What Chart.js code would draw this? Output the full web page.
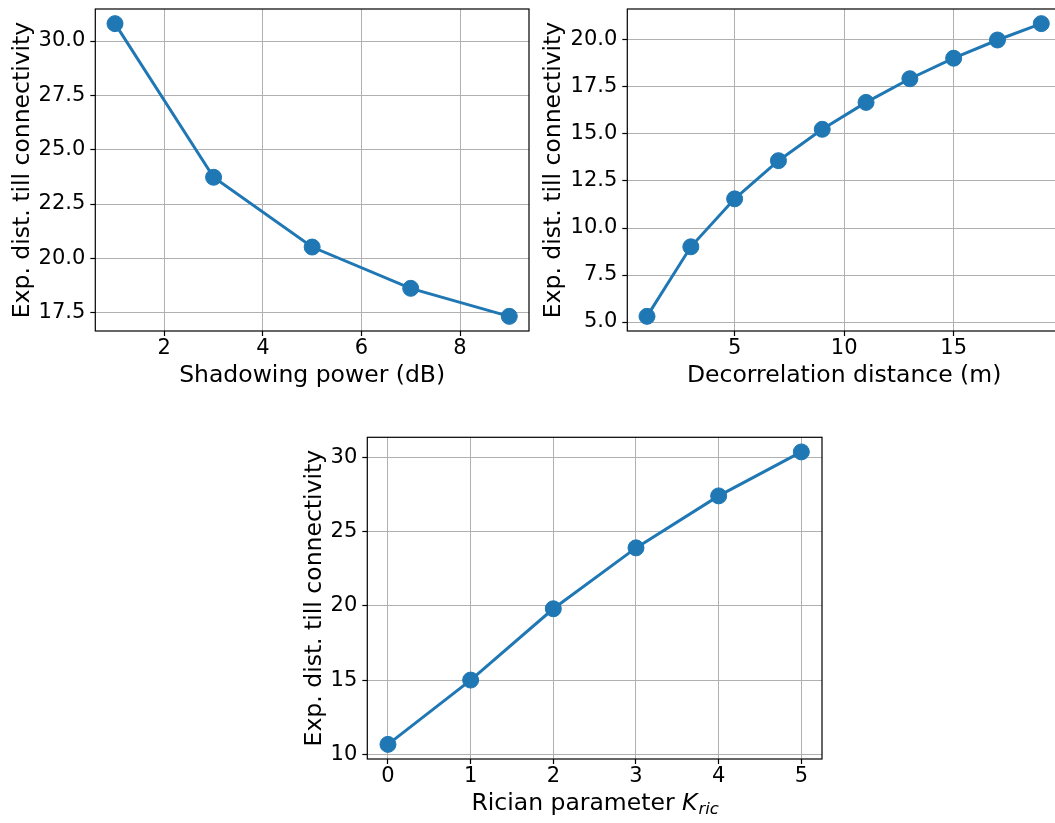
<!DOCTYPE html>
<html>
<head>
<meta charset="utf-8">
<script src="https://cdn.jsdelivr.net/npm/chart.js@4.4.0/dist/chart.umd.min.js"></script>
<style>
  html, body { margin: 0; padding: 0; background: #fff; overflow: hidden; }
  body { width: 1055px; height: 823px; position: relative; }
  .box { position: absolute; }
</style>
</head>
<body>
<div class="box" style="left:0px;top:0px;width:539px;height:401px"><canvas id="shadowChart"></canvas></div>
<div class="box" style="left:532px;top:0px;width:539px;height:401px"><canvas id="decorrChart"></canvas></div>
<div class="box" style="left:272px;top:420px;width:560px;height:409px"><canvas id="ricianChart"></canvas></div>
<script>
// shadowing power sweep
var shadowX = [1, 3, 5, 7, 9];
var shadowY = [30.80, 23.73, 20.52, 18.62, 17.33];
var shadowXTicks = [2, 4, 6, 8];
var shadowYTicks = [17.5, 20.0, 22.5, 25.0, 27.5, 30.0];

// decorrelation distance sweep
var decorrX = [1, 3, 5, 7, 9, 11, 13, 15, 17, 19];
var decorrY = [5.30, 9.00, 11.55, 13.58, 15.25, 16.68, 17.94, 19.03, 20.00, 20.87];
var decorrXTicks = [5, 10, 15];
var decorrYTicks = [5.0, 7.5, 10.0, 12.5, 15.0, 17.5, 20.0];

// rician K sweep
var ricianX = [0, 1, 2, 3, 4, 5];
var ricianY = [10.67, 15.00, 19.80, 23.90, 27.40, 30.36];
var ricianXTicks = [0, 1, 2, 3, 4, 5];
var ricianYTicks = [10, 15, 20, 25, 30];

var yLabel = "Exp. dist. till connectivity";
var FONT = "'DejaVu Sans', sans-serif";
var BLUE = "#1f77b4";
var TICK_SIZE = 21;
var LABEL_SIZE = 23.5;

Chart.defaults.color = "#000";
Chart.defaults.font.family = FONT;

// matplotlib style 5% margins
function padRange(vals) {
  var lo = Math.min.apply(null, vals), hi = Math.max.apply(null, vals);
  var m = (hi - lo) * 0.05;
  return [lo - m, hi + m];
}

// black box around the plot area
var frame = {
  id: 'frame',
  afterDraw: function(chart) {
    var a = chart.chartArea, ctx = chart.ctx;
    ctx.save();
    ctx.strokeStyle = "#000";
    ctx.lineWidth = 1.2;
    ctx.strokeRect(a.left, a.top, a.right - a.left, a.bottom - a.top);
    ctx.restore();
  }
};

// x label with italic K and subscript
var kricTitle = {
  id: 'kricTitle',
  afterDraw: function(chart) {
    var ctx = chart.ctx, sx = chart.scales.x, a = chart.chartArea;
    var y = sx.bottom - 25.5;
    var main = "Rician parameter ";
    var big = LABEL_SIZE + "px " + FONT;
    var bigIt = "italic " + LABEL_SIZE + "px " + FONT;
    var small = "italic 16.5px " + FONT;
    ctx.save();
    ctx.textBaseline = "middle";
    ctx.fillStyle = "#000";
    ctx.font = big;
    var w1 = ctx.measureText(main).width;
    ctx.font = bigIt;
    var w2 = ctx.measureText("K").width;
    ctx.font = small;
    var w3 = ctx.measureText("ric").width;
    var x = (a.left + a.right) / 2 - (w1 + w2 + w3) / 2;
    ctx.font = big;
    ctx.fillText(main, x, y);
    ctx.font = bigIt;
    ctx.fillText("K", x + w1, y);
    ctx.font = small;
    ctx.fillText("ric", x + w1 + w2 + 1, y + 6);
    ctx.restore();
  }
};

function makeChart(id, xs, ys, xTicks, yTicks, opts) {
  var xr = padRange(xs), yr = padRange(ys);
  var pts = xs.map(function(x, i) { return {x: x, y: ys[i]}; });
  var plugins = [frame];
  if (opts.extra) plugins.push(opts.extra);
  return new Chart(document.getElementById(id), {
    type: 'line',
    data: {
      datasets: [{
        data: pts,
        borderColor: BLUE,
        backgroundColor: BLUE,
        borderWidth: 3,
        pointRadius: 8,
        pointBorderWidth: 1,
        pointBackgroundColor: BLUE,
        pointBorderColor: BLUE,
        tension: 0,
        clip: false
      }]
    },
    options: {
      responsive: true,
      maintainAspectRatio: false,
      animation: false,
      layout: { padding: { left: 0, right: 10, top: opts.top, bottom: 0 } },
      plugins: { legend: { display: false }, tooltip: { enabled: false } },
      scales: {
        x: {
          type: 'linear',
          min: xr[0], max: xr[1],
          afterBuildTicks: function(s) { s.ticks = xTicks.map(function(v) { return {value: v}; }); },
          afterFit: function(s) { s.height = 70; s.paddingLeft = 0; s.paddingRight = 0; },
          grid: { color: '#b0b0b0', lineWidth: 1, tickColor: '#000', tickWidth: 1.2, tickLength: 5 },
          border: { display: false },
          ticks: {
            autoSkip: false, maxRotation: 0, padding: 2.5,
            font: { size: TICK_SIZE, lineHeight: 1.0 },
            callback: function(v) { return String(v); }
          },
          title: {
            display: !opts.extra,
            text: opts.xTitle,
            font: { size: LABEL_SIZE },
            padding: { top: 0, bottom: 11.4 }
          }
        },
        y: {
          type: 'linear',
          min: yr[0], max: yr[1],
          afterBuildTicks: function(s) { s.ticks = yTicks.map(function(v) { return {value: v}; }); },
          afterFit: function(s) { s.width = 95.3; s.paddingTop = 0; s.paddingBottom = 0; },
          grid: { color: '#b0b0b0', lineWidth: 1, tickColor: '#000', tickWidth: 1.2, tickLength: 5 },
          border: { display: false },
          ticks: {
            padding: 5,
            font: { size: TICK_SIZE, lineHeight: 1.0 },
            callback: function(v) { return opts.decimals ? v.toFixed(1) : String(v); }
          },
          title: {
            display: true,
            text: yLabel,
            font: { size: LABEL_SIZE },
            padding: { top: opts.yPad, bottom: 0 }
          }
        }
      }
    },
    plugins: plugins
  });
}

makeChart('shadowChart', shadowX, shadowY, shadowXTicks, shadowYTicks,
  { top: 6, xTitle: "Shadowing power (dB)", decimals: true, yPad: 8.9 });
makeChart('decorrChart', decorrX, decorrY, decorrXTicks, decorrYTicks,
  { top: 6, xTitle: "Decorrelation distance (m)", decimals: true, yPad: 7.6 });
makeChart('ricianChart', ricianX, ricianY, ricianXTicks, ricianYTicks,
  { top: 17.3, xTitle: "", decimals: false, yPad: 28.9, extra: kricTitle });
</script>
</body>
</html>
